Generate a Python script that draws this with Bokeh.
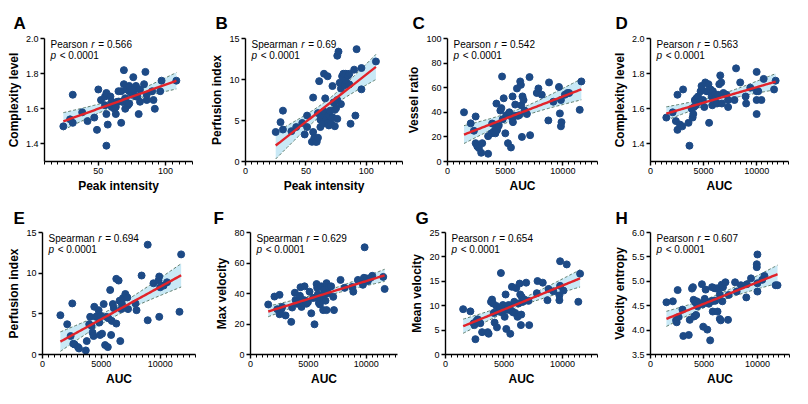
import numpy as np
from bokeh.plotting import figure
from bokeh.models import Range1d, FixedTicker, Label, PrintfTickFormatter
from bokeh.layouts import column, row
from bokeh.embed import file_html
from bokeh.resources import INLINE

FONT = "Liberation Sans"

# ---------------- data ----------------
a_peak = [24, 29, 31, 31, 38, 42, 47, 49, 50, 52, 55, 55, 56, 56, 56, 57, 59, 60, 60, 62,
          63, 65, 65, 67, 67, 68, 69, 69, 70, 70, 71, 72, 73, 73, 74, 75, 76, 77, 78, 78,
          79, 80, 81, 84, 85, 86, 86, 90, 91, 92, 96, 97, 108, 64, 73, 75, 63, 81, 68]
a_complexity = [1.50, 1.54, 1.68, 1.52, 1.58, 1.53, 1.55, 1.48, 1.71, 1.65, 1.67, 1.62, 1.57, 1.69, 1.39,
                1.51, 1.67, 1.64, 1.61, 1.60, 1.57, 1.70, 1.64, 1.70, 1.52, 1.64, 1.82, 1.74, 1.60, 1.66,
                1.71, 1.62, 1.73, 1.70, 1.71, 1.68, 1.78, 1.71, 1.73, 1.67, 1.67, 1.57, 1.71, 1.74, 1.81,
                1.65, 1.68, 1.70, 1.65, 1.60, 1.70, 1.76, 1.76, 1.64, 1.63, 1.71, 1.61, 1.64, 1.64]

b_peak = [25, 29, 31, 31, 38, 42, 47, 49, 51, 51, 55, 56, 56, 57, 58, 59, 60, 60, 61, 62,
          62, 63, 64, 65, 65, 66, 67, 68, 68, 69, 69, 70, 71, 72, 72, 73, 74, 74, 75, 76,
          76, 76, 77, 78, 79, 79, 80, 81, 82, 83, 83, 85, 86, 86, 87, 90, 91, 92, 96, 96, 108]
b_perfusion = [3.6, 4.8, 6.2, 3.9, 3.7, 4.2, 4.7, 3.3, 4.2, 5.6, 2.4, 7.8, 3.6, 2.9, 2.4, 2.4, 2.9, 5.9, 9.8, 5.1,
               4.2, 5.7, 4.6, 10.7, 6.1, 7.7, 5.2, 4.7, 10.4, 4.4, 5.7, 6.2, 4.6, 5.4, 9.2, 7.2, 6.3, 4.3, 6.5, 7.5,
               5.2, 12.9, 13.4, 9.6, 7.0, 8.9, 10.4, 10.7, 9.3, 9.9, 10.7, 10.5, 10.7, 9.4, 4.6, 11.2, 5.6, 13.7,
               11.4, 8.8, 12.2]

c_auc = [1430, 2010, 2290, 2440, 2440, 2580, 2720, 2920, 3010, 3520, 3520, 3810, 3870, 4010, 4100, 4150,
         4240, 4300, 4440, 4580, 4670, 4730, 4780, 4870, 5010, 5100, 5240, 5360, 5500, 5590, 5640, 5670,
         5820, 5870, 6020, 6100, 6220, 6300, 6360, 6390, 6450, 6500, 6590, 6680, 6880, 7110, 7160, 7740,
         7880, 8170, 8740, 8800, 9170, 9660, 9740, 9830, 9830, 9880, 10170, 10400, 10540, 11460, 11600]
c_vessel = [40, 31, 25, 36.6, 14.9, 12.3, 10.9, 7.1, 14.9, 6.3, 20.6, 22.9, 30.9, 24.3, 30, 22.9,
            47.1, 25.7, 29.1, 41.4, 43.4, 69.1, 34.3, 51.4, 22.9, 37.7, 14.9, 40, 11.4, 35.7, 52.9, 32,
            37.1, 46.3, 59.4, 37.1, 37.7, 65.1, 62.3, 45.7, 20, 52.9, 50, 41.4, 38.6, 68.6, 21.4, 55.7,
            59.4, 54.3, 33.4, 64.3, 48.6, 60.6, 39.1, 50, 28.6, 32, 54.3, 55.7, 55.7, 42, 65.1]

d_auc = [1490, 2090, 2390, 2540, 2540, 2780, 2990, 3070, 3580, 3670, 3880, 3970, 4030, 4090, 4180, 4270,
         4330, 4390, 4480, 4630, 4720, 4810, 4930, 5070, 5160, 5280, 5370, 5460, 5520, 5670, 5760, 5820,
         5880, 5970, 6060, 6180, 6270, 6360, 6480, 6570, 6660, 6720, 6870, 7160, 7310, 7310, 7910, 8060,
         8450, 8960, 9010, 9400, 10000, 10000, 10000, 10000, 10150, 10450, 10660, 11640, 11790]
d_complexity = [1.55, 1.58, 1.53, 1.48, 1.68, 1.51, 1.50, 1.71, 1.52, 1.39, 1.60, 1.55, 1.57, 1.61, 1.65, 1.62,
                1.66, 1.64, 1.67, 1.64, 1.70, 1.73, 1.65, 1.61, 1.75, 1.70, 1.70, 1.74, 1.52, 1.71, 1.67, 1.62,
                1.70, 1.65, 1.68, 1.67, 1.63, 1.68, 1.74, 1.79, 1.75, 1.63, 1.69, 1.68, 1.65, 1.61, 1.65, 1.83,
                1.75, 1.67, 1.63, 1.72, 1.81, 1.70, 1.65, 1.57, 1.70, 1.65, 1.77, 1.71, 1.76]

e_auc = [1520, 2100, 2390, 2530, 2620, 2730, 3020, 3100, 3680, 3760, 3970, 4050, 4170, 4250, 4340, 4400,
         4540, 4680, 4770, 4830, 4890, 4970, 5060, 5200, 5320, 5430, 5550, 5600, 5750, 5830, 5890, 5980,
         6060, 6270, 6270, 6470, 6550, 6610, 6700, 6750, 6840, 7040, 7210, 7270, 7900, 7990, 8420, 8940,
         8940, 9430, 9860, 9920, 9920, 10000, 10290, 10580, 11640, 11780]
e_perfusion = [4.83, 3.72, 2.27, 6.28, 1.32, 1.24, 0.91, 0.74, 0.5, 1.65, 3.72, 4.63, 3.51, 2.69, 2.27, 5.87,
               4.63, 4.75, 5.45, 3.93, 2.4, 4.75, 2.56, 6.2, 1.16, 4.63, 0.91, 4.46, 7.93, 2.4, 4.13, 6.2,
               5.7, 9.3, 3.8, 9.09, 6.61, 1.65, 5.58, 6.2, 6.94, 7.44, 7.02, 5.58, 6.28, 5.45, 9.71, 4.21,
               13.5, 8.76, 9.09, 9.59, 4.63, 8.26, 8.47, 8.88, 5.25, 12.31]

f_auc = [1530, 2070, 2310, 2510, 2510, 2650, 2740, 3030, 3520, 3600, 3830, 3890, 4030, 4180, 4270, 4320,
         4410, 4550, 4670, 4760, 4840, 4960, 5100, 5250, 5420, 5530, 5620, 5710, 5760, 5820, 5910, 6000,
         6110, 6200, 6280, 6340, 6400, 6480, 6570, 6570, 6690, 6770, 6970, 7150, 7210, 7780, 8130, 8790,
         8880, 9280, 9710, 9740, 9800, 9860, 10030, 10140, 10380, 10520, 11470, 11590]
f_max_velocity = [32.8, 38, 29.7, 39.1, 26.4, 29.5, 31.2, 25.6, 21.4, 30.8, 40.5, 35.8, 33.3, 35.3, 38.5, 44.1,
                  31.2, 35.8, 44.7, 35.3, 33.3, 34.3, 41.2, 27, 37, 19.8, 37.4, 46.2, 43.7, 39.5, 33.7, 32.8,
                  44.7, 37.4, 29.1, 42.6, 39.5, 35.3, 46.8, 29.1, 40.1, 44.1, 44.7, 37.8, 29.1, 48.9, 43.7, 44.3,
                  41.2, 48.9, 45.7, 48.9, 50.3, 70.3, 49.9, 48.2, 50.3, 51.6, 50.9, 43]

g_auc = [1510, 2130, 2410, 2470, 2560, 2640, 2760, 2980, 3130, 3610, 3690, 3890, 3980, 4060, 4120, 4200,
         4350, 4400, 4550, 4630, 4740, 4830, 4910, 4970, 5060, 5140, 5200, 5310, 5400, 5540, 5600, 5680,
         5770, 5880, 5970, 6050, 6160, 6250, 6340, 6390, 6450, 6480, 6530, 6620, 6730, 6900, 7100, 7160,
         7810, 7870, 8320, 8720, 8810, 9230, 9740, 9740, 9800, 9800, 10090, 10370, 11360, 11510]
g_mean_velocity = [9.29, 8.84, 6.41, 6.02, 3.14, 6.87, 7.2, 6.41, 4.58, 4.58, 4.25, 10.8, 11.26, 10.47, 8.51, 6.54,
                   9.95, 5.56, 8.84, 9.49, 16.69, 8.64, 10.14, 9.03, 7.72, 12.3, 5.24, 9.16, 10.14, 4.25, 9.03, 13.87,
                   8.64, 10.8, 8.51, 13.61, 7.72, 10.47, 14.53, 12.3, 6.02, 8.18, 11.78, 10.8, 11.26, 14.72, 10.99, 6.02,
                   12.57, 15.05, 14.72, 11.13, 13.42, 12.96, 12.11, 11.13, 14.07, 19.11, 13.09, 18.46, 10.8, 16.56]

h_auc = [1490, 2090, 2390, 2450, 2540, 2630, 2990, 3070, 3580, 3670, 3880, 3970, 4030, 4090, 4180, 4270,
         4330, 4390, 4480, 4630, 4810, 4870, 4930, 5070, 5160, 5310, 5460, 5580, 5670, 5760, 5820, 5880,
         5970, 6060, 6180, 6270, 6360, 6480, 6480, 6570, 6660, 6720, 6780, 7010, 7250, 7310, 7910, 8060,
         8450, 8960, 9010, 9400, 9940, 9940, 10000, 10000, 10000, 10450, 10660, 11700, 11880]
h_entropy = [4.57, 4.59, 4.2, 4.16, 4.82, 4.27, 4.42, 3.88, 3.9, 4.21, 4.85, 4.88, 4.62, 4.28, 4.57, 4.31,
             4.59, 4.49, 4.54, 4.55, 4.94, 4.53, 4.07, 4.64, 4.83, 4.01, 4.54, 3.79, 4.59, 4.88, 4.38, 4.6,
             4.86, 4.6, 4.85, 4.38, 4.86, 4.23, 4.73, 4.2, 4.93, 4.59, 4.88, 4.98, 4.21, 4.72, 4.98, 4.79,
             4.92, 4.67, 4.94, 5.06, 5.35, 5.29, 5.55, 4.79, 4.96, 5.03, 5.11, 4.92, 4.92]

stat_methods = ["Pearson", "Spearman", "Pearson", "Pearson", "Spearman", "Spearman", "Pearson", "Pearson"]
stat_r = ["0.566", "0.69", "0.542", "0.563", "0.694", "0.629", "0.654", "0.607"]
stat_p = "0.0001"

peak_ticks = [50, 100]
b_ticks = [0, 50, 100]
auc_ticks = [0, 5000, 10000]

# ---------------- styling ----------------
NAVY = "#1d4a86"
RED = "#e2232a"
BAND = "#c3e7f5"
DASH = "#5d7c6c"

CHAR_W = {'P': .667, 'e': .556, 'a': .556, 'r': .333, 's': .5, 'o': .556, 'n': .556, 'S': .667,
          'm': .833, 'p': .556, ' ': .278, '=': .584, '<': .584, '.': .278}
for d in "0123456789":
    CHAR_W[d] = .556


def text_w(s, fs):
    return sum(CHAR_W.get(c, .556) for c in s) * fs


def make_panel(letter, xs, ys, xlabel, ylabel, xr, xmajor, xminor, yr, ymajor, yfmt, method, rval,
               width, height, bl, br, bt, bb, lx, standoff):
    p = figure(width=width, height=height, output_backend="svg", toolbar_location=None,
               x_range=Range1d(*xr), y_range=Range1d(*yr),
               min_border_left=bl, min_border_right=br, min_border_top=bt, min_border_bottom=bb)
    p.outline_line_color = None
    p.xgrid.visible = False
    p.ygrid.visible = False
    p.background_fill_color = "white"
    p.border_fill_color = "white"

    # panel letter as the figure title, shifted to the left edge
    p.title.text = letter
    p.title.align = "left"
    p.title.offset = lx - bl
    p.title.text_font = FONT
    p.title.text_font_size = "17px"
    p.title.text_font_style = "bold"
    p.title.text_color = "black"
    p.title.standoff = standoff

    x = np.array(xs, dtype=float)
    y = np.array(ys, dtype=float)
    slope, icpt = np.polyfit(x, y, 1)
    xx = np.linspace(x.min(), x.max(), 80)
    yhat = icpt + slope * xx
    n = len(x)
    resid = y - (icpt + slope * x)
    s = np.sqrt(np.sum(resid ** 2) / (n - 2))
    se = s * np.sqrt(1.0 / n + (xx - x.mean()) ** 2 / np.sum((x - x.mean()) ** 2))
    lo = yhat - 2.0 * se
    hi = yhat + 2.0 * se

    p.varea(x=xx, y1=lo, y2=hi, fill_color=BAND, fill_alpha=0.9)
    p.line(xx, lo, line_color=DASH, line_width=1, line_dash="3 2")
    p.line(xx, hi, line_color=DASH, line_width=1, line_dash="3 2")
    p.scatter(x, y, size=7, fill_color=NAVY, line_color=NAVY)
    p.line(xx, yhat, line_color=RED, line_width=2.4)

    p.xaxis.ticker = FixedTicker(ticks=xmajor, minor_ticks=xminor)
    p.yaxis.ticker = FixedTicker(ticks=ymajor)
    p.yaxis.formatter = PrintfTickFormatter(format=yfmt)
    p.xaxis.formatter = PrintfTickFormatter(format="%d")
    p.xaxis.axis_label = xlabel
    p.yaxis.axis_label = ylabel
    for ax in (p.xaxis[0], p.yaxis[0]):
        ax.axis_line_width = 1.4
        ax.axis_line_color = "black"
        ax.major_tick_line_width = 1.4
        ax.major_tick_line_color = "black"
        ax.major_tick_out = 4
        ax.major_tick_in = 0
        ax.minor_tick_line_width = 1
        ax.minor_tick_line_color = "black"
        ax.minor_tick_out = 3
        ax.minor_tick_in = 0
        ax.major_label_text_font = FONT
        ax.major_label_text_font_size = "9px"
        ax.major_label_text_color = "black"
        ax.major_label_standoff = 2
        ax.axis_label_text_font = FONT
        ax.axis_label_text_font_size = "12px"
        ax.axis_label_text_font_style = "bold"
        ax.axis_label_text_color = "black"
        ax.axis_label_standoff = 2
    p.yaxis.minor_tick_line_color = None

    # statistics text
    fs = 10
    x0 = 6
    segs1 = [(method, "normal", x0)]
    rx = x0 + text_w(method, fs) + text_w(" ", fs) * 1.3
    segs1.append(("r", "italic", rx))
    segs1.append(("= " + rval, "normal", rx + text_w("r", fs) + text_w(" ", fs) * 1.3))
    segs2 = [("p", "italic", x0), ("< " + stat_p, "normal", x0 + text_w("p", fs) + text_w(" ", fs) * 1.3)]
    for segs, yo in ((segs1, -6), (segs2, -17)):
        for txt, style, xo in segs:
            p.add_layout(Label(x=xr[0], y=yr[1], x_offset=xo, y_offset=yo, text=txt,
                               text_font=FONT, text_font_size=f"{fs}px", text_font_style=style,
                               text_baseline="middle", text_align="left", text_color="black"))
    return p


peak_minor_a = list(range(10, 121, 5))
peak_minor_b = list(range(0, 131, 5))
auc_minor = list(range(0, 13001, 500))
auc_minor_f = list(range(0, 12701, 500))
cplx_ticks = [1.4, 1.6, 1.8, 2.0]

# widths 200 + 204 + 196 + 192 = 792; heights 196 + 192 = 388
T1, S1 = 38, 11   # top border / letter standoff, first row
T2, S2 = 36, 9    # second row

pa = make_panel("A", a_peak, a_complexity, "Peak intensity", "Complexity level", (10, 120), peak_ticks,
                peak_minor_a, (1.3, 2.0), cplx_ticks, "%.1f", stat_methods[0], stat_r[0],
                200, 196, 44, 8, T1, 35, 13, S1)
pb = make_panel("B", b_peak, b_perfusion, "Peak intensity", "Perfusion index", (0, 130), b_ticks,
                peak_minor_b, (0, 15), [0, 5, 10, 15], "%d", stat_methods[1], stat_r[1],
                204, 196, 45, 2, T1, 35, 15, S1)
pc = make_panel("C", c_auc, c_vessel, "AUC", "Vessel ratio", (0, 13000), auc_ticks,
                auc_minor, (0, 100), [0, 20, 40, 60, 80, 100], "%d", stat_methods[2], stat_r[2],
                196, 196, 41, 3, T1, 35, 6, S1)
pd_ = make_panel("D", d_auc, d_complexity, "AUC", "Complexity level", (0, 13000), auc_ticks,
                 auc_minor, (1.3, 2.0), cplx_ticks, "%.1f", stat_methods[3], stat_r[3],
                 192, 196, 50, 4, T1, 35, 15, S1)
pe = make_panel("E", e_auc, e_perfusion, "AUC", "Perfusion index", (0, 13000), auc_ticks,
                auc_minor, (0, 15), [0, 5, 10, 15], "%d", stat_methods[4], stat_r[4],
                200, 192, 42, 5, T2, 34, 13, S2)
pf = make_panel("F", f_auc, f_max_velocity, "AUC", "Max velocity", (0, 12700), auc_ticks,
                auc_minor_f, (0, 80), [0, 20, 40, 60, 80], "%d", stat_methods[5], stat_r[5],
                204, 192, 50, 7, T2, 34, 13, S2)
pg = make_panel("G", g_auc, g_mean_velocity, "AUC", "Mean velocity", (0, 13000), auc_ticks,
                auc_minor, (0, 25), [0, 5, 10, 15, 20, 25], "%d", stat_methods[6], stat_r[6],
                196, 192, 41, 3, T2, 34, 11, S2)
ph = make_panel("H", h_auc, h_entropy, "AUC", "Velocity entropy", (0, 13000), auc_ticks,
                auc_minor, (3.5, 6.0), [3.5, 4.0, 4.5, 5.0, 5.5, 6.0], "%.1f", stat_methods[7], stat_r[7],
                192, 192, 50, 3, T2, 34, 15, S2)

layout = column(row(pa, pb, pc, pd_), row(pe, pf, pg, ph))
open("out.html", "w").write(file_html(layout, INLINE))
